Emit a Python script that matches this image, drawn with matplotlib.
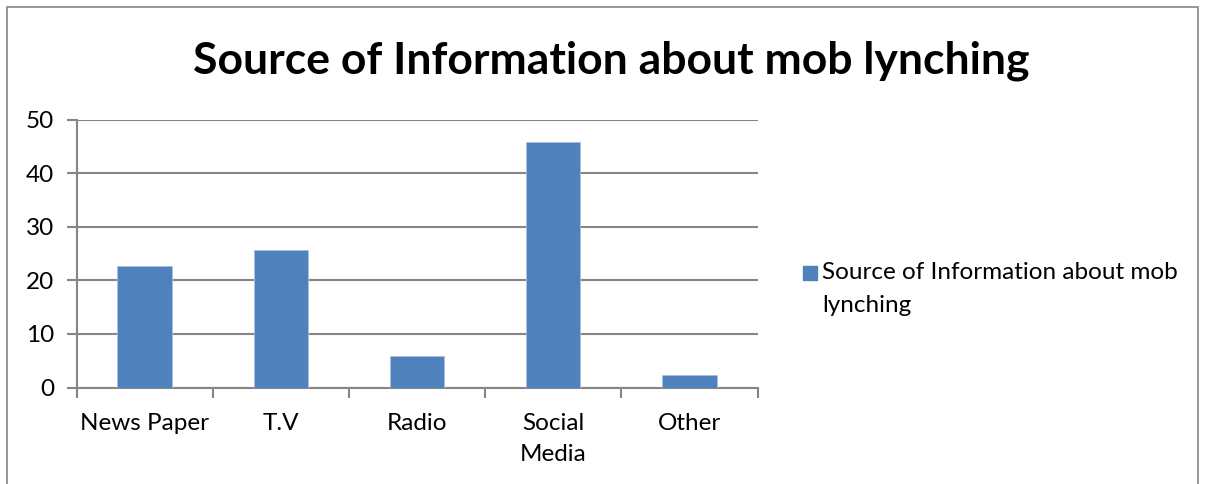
import matplotlib.pyplot as plt
from matplotlib.patches import Rectangle

categories = ['News Paper', 'T.V', 'Radio', 'Social\nMedia', 'Other']
values = [22.6, 25.6, 5.8, 45.8, 2.3]
series_name = 'Source of Information about mob\nlynching'
title = 'Source of Information about mob lynching'
bar_color = '#4f81bd'

plt.rcParams['font.family'] = ['Lato', 'DejaVu Sans']

fig = plt.figure(figsize=(12.06, 4.84), dpi=100)
ax = fig.add_axes([76.5 / 1206, 1 - 387.5 / 484, 681 / 1206, 268 / 484])

x = range(len(categories))
bars = ax.bar(x, values, width=0.4, color=bar_color, edgecolor='#a9c1e0',
              linewidth=0.6, zorder=3)

ax.set_xlim(-0.5, len(categories) - 0.5)
ax.set_ylim(0, 50)
ax.set_yticks(range(0, 51, 10))
ax.yaxis.grid(True, color='#868686', linewidth=1.5, zorder=0)

# category ticks sit between the bars
ax.set_xticks([i + 0.5 for i in range(-1, len(categories))])
ax.set_xticklabels([])
ax.set_xticks(list(x), minor=True)
ax.set_xticklabels(categories, minor=True, fontsize=17.5, linespacing=1.6)
ax.tick_params(axis='x', which='minor', length=0, pad=18)
ax.tick_params(axis='x', which='major', length=7, width=1.5, color='#868686', direction='out')
ax.tick_params(axis='y', length=7, width=1.5, color='#868686', labelsize=17.5, pad=9)

for side in ['top', 'right']:
    ax.spines[side].set_visible(False)
for side in ['left', 'bottom']:
    ax.spines[side].set_color('#868686')
    ax.spines[side].set_linewidth(1.5)

fig.text(0.5065, 1 - 61 / 484, title, ha='center', va='center',
         fontsize=32, fontweight='bold')

# legend: square key next to the first line of the series name
fig.patches.append(Rectangle((803 / 1206, 1 - 280 / 484), 14 / 1206, 14 / 484,
                             transform=fig.transFigure, color=bar_color))
fig.text(822 / 1206, 1 - 262 / 484, series_name, ha='left', va='top',
         fontsize=17.5, linespacing=1.7)

# outer chart border (bottom edge falls outside the image)
fig.patches.append(Rectangle((7 / 1206, -0.1), 1191 / 1206, 1.1 - 7 / 484,
                             transform=fig.transFigure, fill=False,
                             edgecolor='#868686', linewidth=1.2))

fig.savefig('out.png', dpi=100)
